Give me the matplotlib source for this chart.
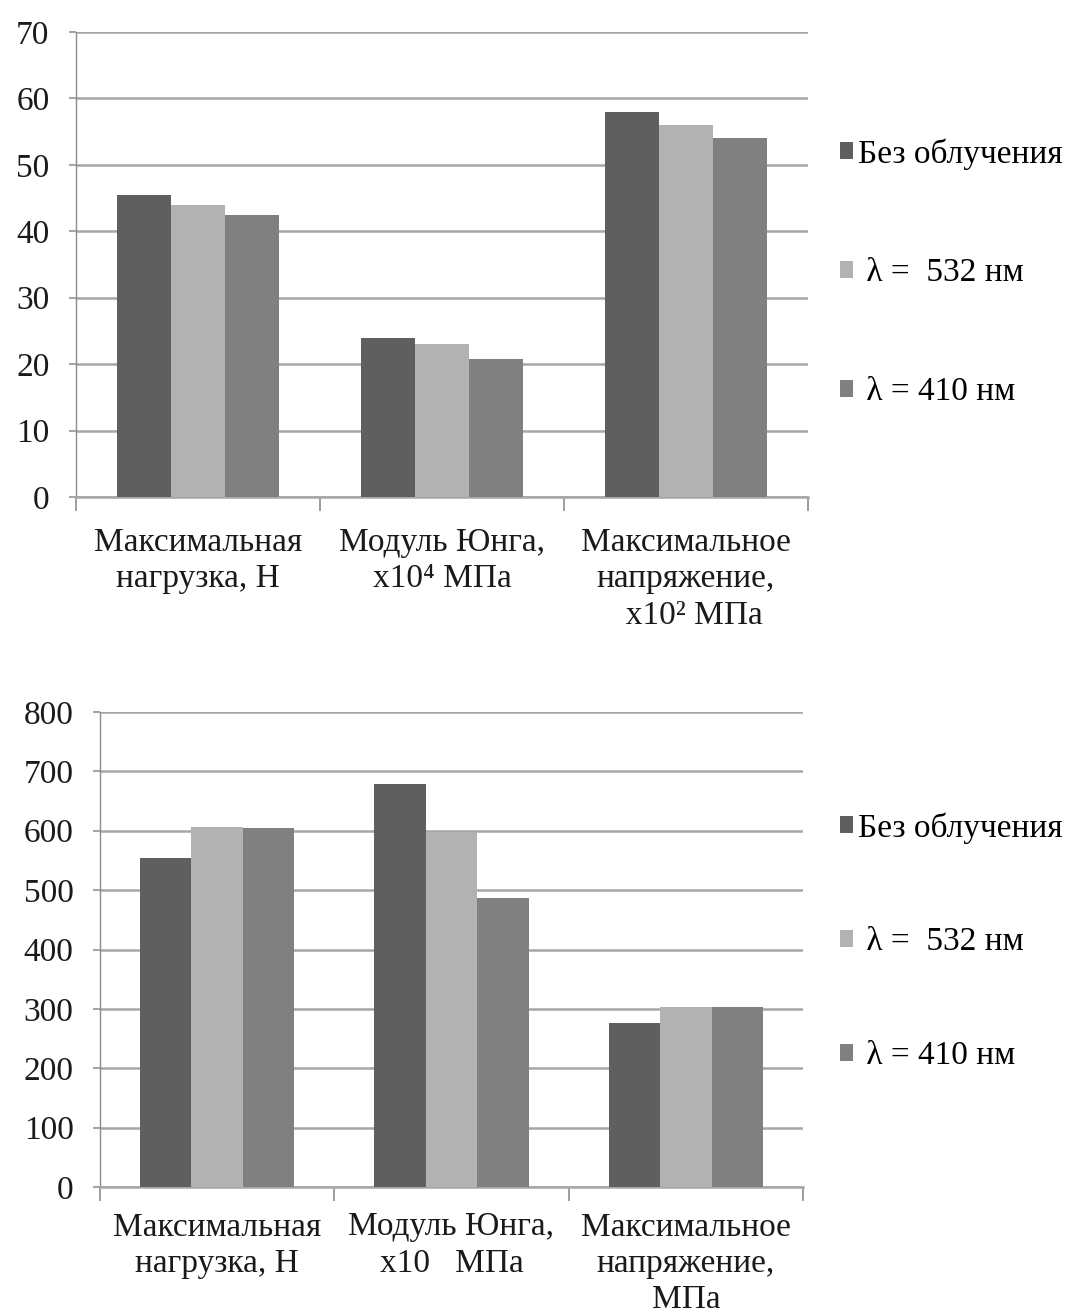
import matplotlib
matplotlib.use("Agg")
import matplotlib.pyplot as plt
import numpy as np

#Data.
series = ["Без облучения", " λ =  532 нм", " λ = 410 нм"]
colors = ["#5f5f5f", "#b2b2b2", "#808080"]

topLabels = ["Максимальная\nнагрузка, Н", "Модуль Юнга,\nx10⁴ МПа", "Максимальное\nнапряжение,\n  x10² МПа"]
topNone = [45.5, 24.0, 58.0]
top532 = [43.9, 23.0, 56.0]
top410 = [42.4, 20.8, 54.0]

botLabels = ["Максимальная\nнагрузка, Н", "Модуль Юнга,\nx10   МПа", "Максимальное\nнапряжение,\nМПа"]
botNone = [554, 678, 277]
bot532 = [606, 598, 303]
bot410 = [604, 487, 303]

plt.rcParams['font.family'] = ['Liberation Serif', 'DejaVu Serif']
plt.rcParams['font.size'] = 24

W, H = 1067, 1313
fig = plt.figure(figsize=(W / 100, H / 100), dpi=100)

#Draws one grouped bar chart in the given pixel box.
def drawChart(box, labels, values, ymax, step, legendPos, spacing, labelPad):
    left, top, right, bottom = box
    ax = fig.add_axes([left / W, 1 - bottom / H, (right - left) / W, (bottom - top) / H])
    x = np.arange(len(labels))
    width = 0.22
    for i, vals in enumerate(values):
        ax.bar(x + (i - 1) * width, vals, width, color=colors[i], label=series[i], zorder=3)
    ax.set_xlim(-0.5, len(labels) - 0.5)
    ax.set_ylim(0, ymax)
    ax.set_yticks(np.arange(0, ymax + step, step))
    ax.yaxis.grid(True, color="#a6a6a6", lw=1.8, zorder=0)
    ax.set_axisbelow(True)
    for s in ["top", "right"]:
        ax.spines[s].set_visible(False)
    ax.spines["left"].set_color("#8c8c8c")
    ax.spines["left"].set_linewidth(1.0)
    ax.spines["bottom"].set_color("#a6a6a6")
    ax.spines["bottom"].set_linewidth(1.8)
    ax.tick_params(axis="y", length=5, color="#a6a6a6", width=1.5, pad=14, colors="#1a1a1a")
    ax.set_xticks(x)
    ax.set_xticklabels(labels, linespacing=1.25)
    ax.set_xticks(np.arange(-0.5, len(labels), 1), minor=True)
    ax.tick_params(axis="x", which="major", length=0, pad=labelPad, colors="#1a1a1a")
    ax.tick_params(axis="x", which="minor", length=10, width=1.2, color="#8c8c8c")
    ax.legend(loc="upper left", bbox_to_anchor=(legendPos[0] / W, 1 - legendPos[1] / H),
              bbox_transform=fig.transFigure, frameon=False, handlelength=0.4,
              handleheight=0.4, handletextpad=0.15, labelspacing=spacing, borderpad=0,
              borderaxespad=0)
    return ax

drawChart((76, 32, 808, 497), topLabels, [topNone, top532, top410], 70, 10, (840, 138), 2.65, 22)
drawChart((100, 712, 803, 1187), botLabels, [botNone, bot532, bot410], 800, 100, (840, 812), 2.5, 18)

fig.savefig("out.png", dpi=100)
